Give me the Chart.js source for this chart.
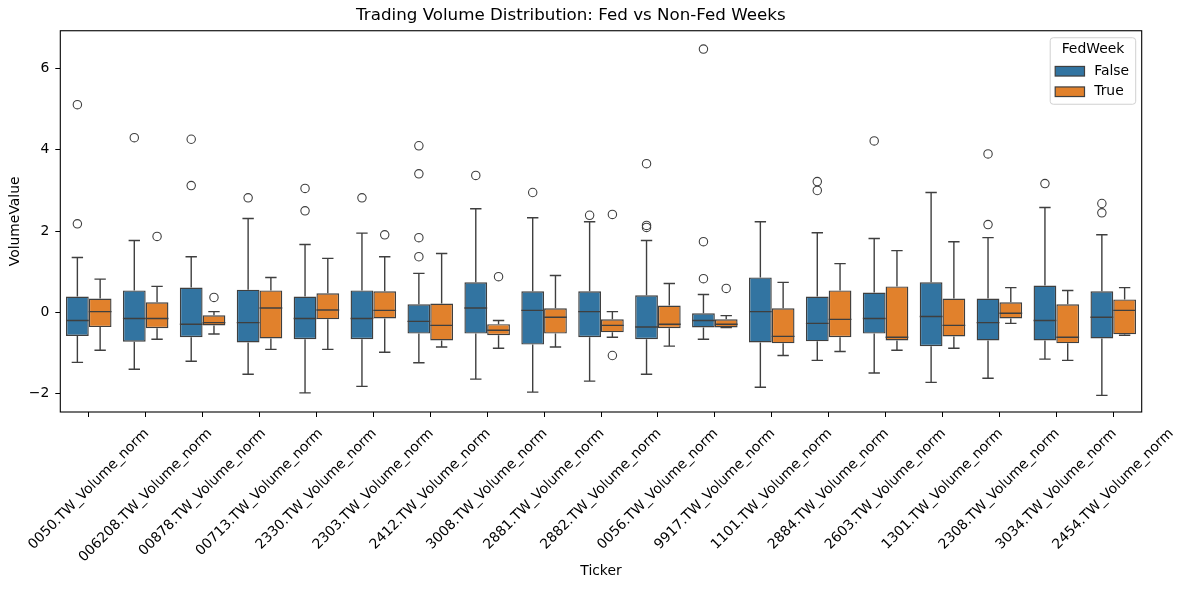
<!DOCTYPE html>
<html>
<head>
<meta charset="utf-8">
<script src="https://cdn.jsdelivr.net/npm/chart.js@4"></script>
<style>
  html, body { margin: 0; padding: 0; background: #fff; }
  #wrap { width: 1186px; height: 590px; }
</style>
</head>
<body>
<div id="wrap"><canvas id="chart" width="1186" height="590"></canvas></div>
<script>
// --- data ---
const tickers = ['0050.TW_Volume_norm', '006208.TW_Volume_norm', '00878.TW_Volume_norm', '00713.TW_Volume_norm',
    '2330.TW_Volume_norm', '2303.TW_Volume_norm', '2412.TW_Volume_norm', '3008.TW_Volume_norm',
    '2881.TW_Volume_norm', '2882.TW_Volume_norm', '0056.TW_Volume_norm', '9917.TW_Volume_norm',
    '1101.TW_Volume_norm', '2884.TW_Volume_norm', '2603.TW_Volume_norm', '1301.TW_Volume_norm',
    '2308.TW_Volume_norm', '3034.TW_Volume_norm', '2454.TW_Volume_norm'];
const yTicks = [-2, 0, 2, 4, 6];

// FedWeek = False
const falseLow = [-1.23, -1.40, -1.20, -1.52, -1.98, -1.82, -1.24, -1.64, -1.96, -1.69, -1.52, -0.66, -1.84, -1.18, -1.49, -1.72, -1.62, -1.15, -2.04];
const falseQ1 = [-0.58, -0.72, -0.61, -0.74, -0.66, -0.66, -0.52, -0.52, -0.79, -0.61, -0.66, -0.37, -0.74, -0.71, -0.52, -0.83, -0.69, -0.69, -0.64];
const falseMedian = [-0.20, -0.15, -0.29, -0.25, -0.15, -0.15, -0.22, 0.11, 0.05, 0.02, -0.36, -0.20, 0.02, -0.27, -0.15, -0.10, -0.25, -0.20, -0.12];
const falseQ3 = [0.39, 0.54, 0.61, 0.56, 0.39, 0.54, 0.20, 0.74, 0.52, 0.52, 0.42, -0.02, 0.86, 0.39, 0.49, 0.74, 0.34, 0.66, 0.52];
const falseHigh = [1.35, 1.77, 1.37, 2.31, 1.67, 1.95, 0.96, 2.55, 2.33, 2.23, 1.77, 0.44, 2.23, 1.96, 1.82, 2.95, 1.84, 2.58, 1.91];
const falseOutliers = [[5.11, 2.18], [4.30], [4.26, 3.12], [2.82], [3.05, 2.50], [2.82], [4.10, 3.41, 1.84, 1.37], [3.37],
    [2.95], [2.39], [3.66, 2.14, 2.09], [6.48, 1.74, 0.83], [], [3.22, 3.00], [4.22], [], [3.90, 2.16], [3.17], [2.68, 2.45]];

// FedWeek = True
const trueLow = [-0.93, -0.66, -0.53, -0.91, -0.91, -0.98, -0.85, -0.88, -0.85, -0.61, -0.83, -0.37, -1.06, -0.96, -0.93, -0.88, -0.27, -1.18, -0.56];
const trueQ1 = [-0.36, -0.39, -0.32, -0.64, -0.17, -0.15, -0.69, -0.56, -0.52, -0.49, -0.39, -0.37, -0.76, -0.61, -0.69, -0.59, -0.15, -0.76, -0.54];
const trueMedian = [0.02, -0.15, -0.25, 0.11, 0.06, 0.05, -0.32, -0.44, -0.12, -0.32, -0.29, -0.29, -0.59, -0.17, -0.61, -0.32, -0.02, -0.61, 0.05];
const trueQ3 = [0.34, 0.25, -0.07, 0.54, 0.47, 0.52, 0.22, -0.29, 0.10, -0.17, 0.17, -0.17, 0.10, 0.54, 0.64, 0.34, 0.25, 0.20, 0.32];
const trueHigh = [0.82, 0.64, 0.02, 0.86, 1.33, 1.37, 1.45, -0.20, 0.91, 0.02, 0.71, -0.08, 0.74, 1.20, 1.52, 1.74, 0.61, 0.54, 0.61];
const trueOutliers = [[], [1.87], [0.37], [], [], [1.91], [], [0.88], [], [2.41, -1.06], [], [0.59], [], [], [], [], [], [], []];

const FONT = 'DejaVu Sans';
const LINE = '#3f3f3f';
const BLUE = '#3274a1';
const ORANGE = '#e1812c';

// extra box parts per dataset index
const boxParts = [
    { low: falseLow, median: falseMedian, high: falseHigh, outliers: falseOutliers },
    { low: trueLow, median: trueMedian, high: trueHigh, outliers: trueOutliers }
];

function minusSign(v) {
    return v < 0 ? '\u2212' + Math.abs(v) : String(v);
}

// whiskers, medians and fliers on top of the floating bars
const boxPlugin = {
    id: 'boxParts',
    afterDatasetsDraw(chart) {
        const ctx = chart.ctx;
        const y = chart.scales.y;
        ctx.save();
        ctx.strokeStyle = LINE;
        ctx.lineWidth = 1.4;
        chart.data.datasets.forEach((ds, di) => {
            const meta = chart.getDatasetMeta(di);
            const parts = boxParts[di];
            meta.data.forEach((bar, i) => {
                const [q1, q3] = ds.data[i];
                const x = bar.x;
                const half = bar.width / 2;
                const cap = half / 2;
                ctx.beginPath();
                // upper whisker + cap
                ctx.moveTo(x, y.getPixelForValue(q3));
                ctx.lineTo(x, y.getPixelForValue(parts.high[i]));
                ctx.moveTo(x - cap, y.getPixelForValue(parts.high[i]));
                ctx.lineTo(x + cap, y.getPixelForValue(parts.high[i]));
                // lower whisker + cap
                ctx.moveTo(x, y.getPixelForValue(q1));
                ctx.lineTo(x, y.getPixelForValue(parts.low[i]));
                ctx.moveTo(x - cap, y.getPixelForValue(parts.low[i]));
                ctx.lineTo(x + cap, y.getPixelForValue(parts.low[i]));
                // median
                ctx.moveTo(x - half, y.getPixelForValue(parts.median[i]));
                ctx.lineTo(x + half, y.getPixelForValue(parts.median[i]));
                ctx.stroke();

                ctx.lineWidth = 1.1;
                parts.outliers[i].forEach(v => {
                    ctx.beginPath();
                    ctx.arc(x, y.getPixelForValue(v), 4.2, 0, Math.PI * 2);
                    ctx.stroke();
                });
                ctx.lineWidth = 1.4;
            });
        });
        ctx.restore();
    },
    afterDraw(chart) {
        const ctx = chart.ctx;
        const area = chart.chartArea;
        const xs = chart.scales.x;
        ctx.save();

        // axes frame
        ctx.strokeStyle = '#000';
        ctx.lineWidth = 1.1;
        ctx.strokeRect(area.left, area.top, area.right - area.left, area.bottom - area.top);

        // rotated tick labels, centred under each tick like matplotlib
        ctx.fillStyle = '#000';
        ctx.font = `13.9px "${FONT}"`;
        ctx.textAlign = 'center';
        ctx.textBaseline = 'middle';
        tickers.forEach((t, i) => {
            const w = ctx.measureText(t).width;
            const cx = xs.getPixelForValue(i);
            const cy = area.bottom + 14 + (w + 15) * Math.SQRT1_2 / 2;
            ctx.save();
            ctx.translate(cx, cy);
            ctx.rotate(-Math.PI / 4);
            ctx.fillText(t, 0, 0);
            ctx.restore();
        });

        // legend
        const lx = area.right - 91.5, ly = area.top + 7, lw = 85.5, lh = 66.5;
        ctx.beginPath();
        ctx.roundRect(lx, ly, lw, lh, 3);
        ctx.fillStyle = 'rgba(255,255,255,0.8)';
        ctx.fill();
        ctx.strokeStyle = '#d0d0d0';
        ctx.lineWidth = 1;
        ctx.stroke();

        ctx.fillStyle = '#000';
        ctx.textAlign = 'center';
        ctx.fillText('FedWeek', lx + lw / 2, ly + 12);
        const entries = [['False', BLUE], ['True', ORANGE]];
        entries.forEach(([label, color], k) => {
            const ey = ly + 33.5 + k * 20.5;
            ctx.fillStyle = color;
            ctx.fillRect(lx + 5, ey - 4.8, 29.3, 9.6);
            ctx.strokeStyle = LINE;
            ctx.lineWidth = 1.2;
            ctx.strokeRect(lx + 5, ey - 4.8, 29.3, 9.6);
            ctx.fillStyle = '#000';
            ctx.textAlign = 'left';
            ctx.fillText(label, lx + 44, ey);
        });
        ctx.restore();
    }
};

const ctx = document.getElementById('chart').getContext('2d');
new Chart(ctx, {
    type: 'bar',
    data: {
        labels: tickers,
        datasets: [
            {
                label: 'False',
                data: falseQ1.map((q, i) => [q, falseQ3[i]]),
                backgroundColor: BLUE,
                borderColor: LINE,
                borderWidth: 1.4,
                borderSkipped: false
            },
            {
                label: 'True',
                data: trueQ1.map((q, i) => [q, trueQ3[i]]),
                backgroundColor: ORANGE,
                borderColor: LINE,
                borderWidth: 1.4,
                borderSkipped: false
            }
        ]
    },
    options: {
        responsive: false,
        animation: false,
        events: [],
        layout: { padding: { left: 0, right: 44.3, top: 0, bottom: 0 } },
        datasets: { bar: { categoryPercentage: 0.8, barPercentage: 1.0 } },
        scales: {
            x: {
                offset: true,
                grid: { offset: false, drawOnChartArea: false, color: '#000', tickLength: 5, lineWidth: 1 },
                border: { display: false },
                ticks: { display: false },
                title: {
                    display: true,
                    text: 'Ticker',
                    color: '#000',
                    font: { family: FONT, size: 13.9 },
                    padding: { top: 0, bottom: 10 }
                },
                afterFit: (scale) => { scale.height = 178; }
            },
            y: {
                min: -2.45,
                max: 6.93,
                grid: { drawOnChartArea: false, color: '#000', tickLength: 5, lineWidth: 1 },
                border: { display: false },
                ticks: {
                    stepSize: 2,
                    includeBounds: false,
                    padding: 6,
                    color: '#000',
                    font: { family: FONT, size: 13.9 },
                    callback: (v) => yTicks.includes(v) ? minusSign(v) : ''
                },
                title: {
                    display: true,
                    text: 'VolumeValue',
                    color: '#000',
                    font: { family: FONT, size: 13.9 },
                    padding: { top: 7, bottom: 0 }
                },
                afterFit: (scale) => { scale.width = 60.3; }
            }
        },
        plugins: {
            legend: { display: false },
            tooltip: { enabled: false },
            title: {
                display: true,
                text: 'Trading Volume Distribution: Fed vs Non-Fed Weeks',
                color: '#000',
                font: { family: FONT, size: 16.7, weight: 'normal' },
                padding: { top: 6, bottom: 4.7 }
            }
        }
    },
    plugins: [boxPlugin]
});
</script>
</body>
</html>
